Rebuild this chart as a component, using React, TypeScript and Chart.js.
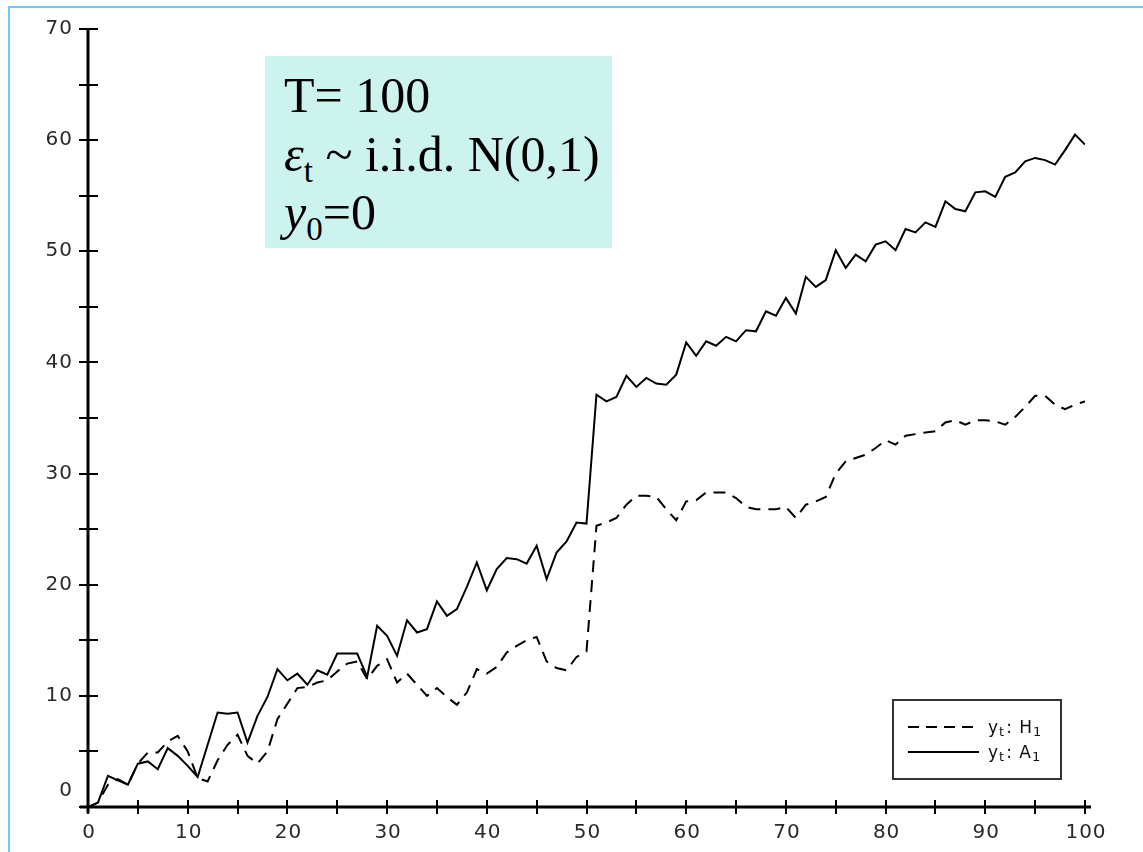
import React, { useEffect, useRef } from "react";
import { Chart, registerables } from "chart.js";

Chart.register(...registerables);

// y_t under H1 (dashed)
const seriesH1 = [
  0, 0.4, 2.0, 2.5, 2.0, 3.9, 4.9, 4.9, 5.9, 6.4,
  5.0, 2.6, 2.3, 4.2, 5.6, 6.5, 4.6, 3.9, 5.0, 7.9,
  9.3, 10.7, 10.8, 11.2, 11.4, 12.2, 12.9, 13.1, 11.5, 12.7,
  13.3, 11.2, 12.0, 11.0, 10.0, 10.7, 9.9, 9.2, 10.3, 12.4,
  12.0, 12.6, 13.9, 14.5, 15.0, 15.3, 13.1, 12.5, 12.3, 13.5,
  14.0, 25.3, 25.6, 26.0, 27.2, 28.0, 28.0, 27.9, 26.8, 25.8,
  27.5, 27.6, 28.3, 28.3, 28.3, 27.8, 27.0, 26.8, 26.8, 26.8,
  27.0, 26.0, 27.2, 27.5, 27.9, 30.0, 31.1, 31.4, 31.7, 32.3,
  33.0, 32.6, 33.4, 33.55, 33.7, 33.8, 34.6, 34.8, 34.4, 34.8,
  34.8, 34.7, 34.4, 35.1, 36.0, 37.0, 37.0, 36.2, 35.8, 36.2,
  36.5,
];

// y_t under A1 (solid)
const seriesA1 = [
  0, 0.4, 2.8, 2.4, 2.0, 3.9, 4.1, 3.4, 5.3, 4.6,
  3.7, 2.7, 5.6, 8.5, 8.4, 8.5, 5.8, 8.2, 9.9, 12.4,
  11.4, 12.0, 11.0, 12.3, 11.9, 13.8, 13.8, 13.8, 11.7, 16.3,
  15.4, 13.6, 16.8, 15.7, 16.0, 18.5, 17.2, 17.8, 19.8, 22.0,
  19.5, 21.4, 22.4, 22.3, 21.9, 23.5, 20.5, 22.9, 23.9, 25.6,
  25.5, 37.1, 36.5, 36.9, 38.8, 37.8, 38.6, 38.1, 38.0, 38.9,
  41.8, 40.6, 41.9, 41.5, 42.3, 41.9, 42.9, 42.8, 44.6, 44.2,
  45.8, 44.4, 47.7, 46.8, 47.4, 50.1, 48.5, 49.7, 49.1, 50.6,
  50.9, 50.1, 52.0, 51.7, 52.6, 52.2, 54.5, 53.8, 53.6, 55.3,
  55.4, 54.9, 56.7, 57.1, 58.1, 58.4, 58.2, 57.8, 59.1, 60.5,
  59.6,
];

const periods = seriesA1.map((_, i) => i);

const xTickMarks = [0, 5, 10, 15, 20, 25, 30, 35, 40, 45, 50, 55, 60, 65, 70, 75, 80, 85, 90, 95, 100];
const yTickMarks = [0, 5, 10, 15, 20, 25, 30, 35, 40, 45, 50, 55, 60, 65, 70];
const xTickLabels = ["0", "10", "20", "30", "40", "50", "60", "70", "80", "90", "100"];
const yTickLabels = ["0", "10", "20", "30", "40", "50", "60", "70"];

const legendItems = [
  { base: "y", sub: "t", mid: ": H", sub2: "1", dash: [11, 7] },
  { base: "y", sub: "t", mid: ": A", sub2: "1", dash: [] as number[] },
];

const TICK_FONT = "DejaVu Sans";

const axesPlugin = {
  id: "crossAxes",
  afterDatasetsDraw(chart: any) {
    const { ctx, chartArea: a, scales } = chart;
    const xs = scales.x;
    const ys = scales.y;
    const x0 = xs.getPixelForValue(0);
    const y0 = ys.getPixelForValue(0);
    ctx.save();
    ctx.strokeStyle = "#000";
    ctx.lineCap = "butt";
    ctx.setLineDash([]);
    ctx.lineWidth = 3;
    ctx.beginPath();
    ctx.moveTo(x0, ys.getPixelForValue(70) - 1);
    ctx.lineTo(x0, y0 + 6);
    ctx.moveTo(x0 - 8, y0);
    ctx.lineTo(xs.getPixelForValue(100) + 6, y0);
    ctx.stroke();
    ctx.lineWidth = 2;
    ctx.beginPath();
    for (const v of yTickMarks) {
      const p = Math.round(ys.getPixelForValue(v));
      ctx.moveTo(x0 - 9, p);
      ctx.lineTo(x0 + 10, p);
    }
    for (const v of xTickMarks) {
      const p = Math.round(xs.getPixelForValue(v));
      ctx.moveTo(p, y0 - 7);
      ctx.lineTo(p, y0 + 7);
    }
    ctx.stroke();

    // tick labels
    ctx.fillStyle = "#2a2a2a";
    ctx.font = `20px "${TICK_FONT}"`;
    (ctx as any).letterSpacing = "1px";
    ctx.textBaseline = "middle";
    ctx.textAlign = "right";
    for (const lab of yTickLabels) {
      const v = Number(lab);
      const p = ys.getPixelForValue(v) - (v === 0 ? 16 : 0);
      ctx.fillText(lab, x0 - 15, p);
    }
    ctx.textAlign = "center";
    ctx.textBaseline = "top";
    for (const lab of xTickLabels) {
      const p = xs.getPixelForValue(Number(lab));
      ctx.fillText(lab, p + 1, y0 + 16);
    }
    (ctx as any).letterSpacing = "0px";

    // legend box
    const bx = a.right - 192;
    const by = a.bottom - 107;
    const bw = 168;
    const bh = 79;
    ctx.lineWidth = 2;
    ctx.strokeStyle = "#333";
    ctx.strokeRect(bx, by, bw, bh);
    legendItems.forEach((it, i) => {
      const ly = by + 27 + i * 25;
      ctx.strokeStyle = "#000";
      ctx.lineWidth = 2;
      ctx.setLineDash(it.dash);
      ctx.beginPath();
      ctx.moveTo(bx + 15, ly);
      ctx.lineTo(bx + 86, ly);
      ctx.stroke();
      ctx.setLineDash([]);
      ctx.fillStyle = "#111";
      ctx.textBaseline = "alphabetic";
      ctx.textAlign = "left";
      (ctx as any).letterSpacing = "1px";
      let tx = bx + 95;
      const base = ly + 6;
      ctx.font = `17px "${TICK_FONT}"`;
      ctx.fillText(it.base, tx, base);
      tx += ctx.measureText(it.base).width;
      ctx.font = `13px "${TICK_FONT}"`;
      ctx.fillText(it.sub, tx, base + 3);
      tx += ctx.measureText(it.sub).width + 1;
      ctx.font = `17px "${TICK_FONT}"`;
      ctx.fillText(it.mid, tx, base);
      tx += ctx.measureText(it.mid).width;
      ctx.font = `13px "${TICK_FONT}"`;
      ctx.fillText(it.sub2, tx, base + 3);
      (ctx as any).letterSpacing = "0px";
    });
    ctx.restore();
  },
};

export default function App() {
  const ref = useRef<HTMLCanvasElement | null>(null);

  useEffect(() => {
    if (!ref.current) return;
    const chart = new Chart(ref.current, {
      type: "line",
      data: {
        labels: periods,
        datasets: [
          {
            label: "y_t: H_1",
            data: seriesH1,
            borderColor: "#000",
            borderWidth: 2,
            borderDash: [12, 8],
            pointRadius: 0,
            tension: 0,
            fill: false,
          },
          {
            label: "y_t: A_1",
            data: seriesA1,
            borderColor: "#000",
            borderWidth: 2,
            pointRadius: 0,
            tension: 0,
            fill: false,
          },
        ],
      },
      options: {
        responsive: false,
        animation: false,
        devicePixelRatio: 1,
        layout: { padding: { left: 0, top: 29, right: 58, bottom: 0 } },
        plugins: { legend: { display: false }, tooltip: { enabled: false } },
        scales: {
          x: {
            type: "linear",
            min: 0,
            max: 100,
            grid: { display: false, drawTicks: false },
            border: { display: false },
            afterFit: (s: any) => {
              s.height = 45;
            },
            ticks: { display: false },
          },
          y: {
            type: "linear",
            min: 0,
            max: 70,
            grid: { display: false, drawTicks: false },
            border: { display: false },
            afterFit: (s: any) => {
              s.width = 88;
            },
            ticks: { display: false },
          },
        },
      },
      plugins: [axesPlugin],
    });
    return () => chart.destroy();
  }, []);

  const serif = '"Liberation Serif", "Times New Roman", serif';
  const line: React.CSSProperties = {
    position: "absolute",
    left: 19,
    fontFamily: serif,
    fontSize: 50,
    lineHeight: "50px",
    whiteSpace: "nowrap",
    color: "#000",
  };
  const sub: React.CSSProperties = { fontSize: 33, position: "relative", top: 11 };

  return (
    <div style={{ position: "absolute", left: 0, top: 0, width: 1143, height: 852, background: "#fff", overflow: "hidden" }}>
      <div
        style={{
          position: "absolute",
          left: 8,
          top: 6,
          width: 1135,
          height: 846,
          boxSizing: "border-box",
          borderTop: "2px solid #66ccff",
          borderLeft: "2px solid #66ccff",
        }}
      />
      <canvas
        ref={ref}
        width={1143}
        height={852}
        style={{ position: "absolute", left: 0, top: 0, width: 1143, height: 852 }}
      />
      <div
        style={{
          position: "absolute",
          left: 265,
          top: 56,
          width: 347,
          height: 192,
          background: "#cdf3ef",
        }}
      >
        <div style={{ ...line, top: 14 }}>T= 100</div>
        <div style={{ ...line, top: 73 }}>
          <i>ε</i>
          <span style={sub}>t</span> ~ i.i.d. N(0,1)
        </div>
        <div style={{ ...line, top: 131 }}>
          <i>y</i>
          <span style={sub}>0</span>=0
        </div>
      </div>
    </div>
  );
}
